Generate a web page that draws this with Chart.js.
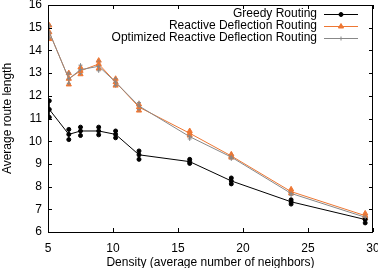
<!DOCTYPE html>
<html><head><meta charset="utf-8">
<script src="https://cdn.jsdelivr.net/npm/chart.js@4.4.1/dist/chart.umd.min.js"></script>
<style>html,body{margin:0;padding:0;background:#fff;}#wrap{width:378px;height:268px;}</style>
</head><body><div id="wrap"><canvas id="c" width="378" height="268"></canvas></div>
<script>
const density = [5.1, 6.6, 7.5, 8.9, 10.2, 12.0, 15.9, 19.1, 23.7, 29.4];
const seriesNames = ["Greedy Routing", "Reactive Deflection Routing", "Optimized Reactive Deflection Routing"];
const greedyMean = [11.4, 10.3, 10.45, 10.45, 10.3, 9.4, 9.1, 8.25, 7.33, 6.55];
const greedyLo   = [11.05, 10.07, 10.25, 10.28, 10.15, 9.2, 9.02, 8.12, 7.23, 6.4];
const greedyHi   = [11.78, 10.52, 10.62, 10.62, 10.45, 9.57, 9.2, 8.38, 7.42, 6.66];
const reactMean  = [14.8, 12.75, 13.1, 13.4, 12.6, 11.5, 10.35, 9.35, 7.78, 6.72];
const reactLo    = [14.5, 12.5, 12.95, 13.2, 12.45, 11.35, 10.25, 9.28, 7.7, 6.62];
const reactHi    = [15.1, 13.0, 13.25, 13.55, 12.75, 11.62, 10.45, 9.42, 7.88, 6.82];
const optMean    = [14.8, 12.75, 13.15, 13.3, 12.6, 11.55, 10.2, 9.3, 7.7, 6.65];
const optLo      = [14.55, 12.55, 13.0, 13.1, 12.45, 11.4, 10.1, 9.22, 7.62, 6.58];
const optHi      = [15.1, 13.0, 13.35, 13.5, 12.75, 11.7, 10.3, 9.4, 7.8, 6.75];
const xTicks = [5, 10, 15, 20, 25, 30];
const yTicks = [6, 7, 8, 9, 10, 11, 12, 13, 14, 15, 16];

const FONT = "'Liberation Sans', Arial, sans-serif";
const colors = ["#000000", "#ee7733", "#888888"];
const styles = [
  {pointStyle: 'circle', radius: 2},
  {pointStyle: 'triangle', radius: 3},
  {pointStyle: 'cross', radius: 2}
];

function pts(ys){ return density.map((x,i)=>({x, y: ys[i]})); }
function errPts(lo, hi){
  const out=[];
  density.forEach((x,i)=>{ out.push({x, y: lo[i]}, {x, y: hi[i]}, {x, y: null}); });
  return out;
}
const means=[greedyMean, reactMean, optMean], los=[greedyLo, reactLo, optLo], his=[greedyHi, reactHi, optHi];
const datasets=[];
[2,1,0].forEach(k=>{
  datasets.push({label: seriesNames[k]+' err', data: errPts(los[k], his[k]), borderColor: colors[k], backgroundColor: colors[k],
    borderWidth: 1, pointStyle: styles[k].pointStyle, pointRadius: styles[k].radius, pointBorderWidth: 1, spanGaps: false, order: 10-k});
  datasets.push({label: seriesNames[k], data: pts(means[k]), borderColor: colors[k], backgroundColor: colors[k],
    borderWidth: 1, pointStyle: styles[k].pointStyle, pointRadius: styles[k].radius, pointBorderWidth: 1, order: 5-k});
});

const framePlugin = {
  id: 'frame',
  afterDraw(chart){
    const {ctx, chartArea: a, scales} = chart;
    ctx.save();
    ctx.strokeStyle = '#000'; ctx.lineWidth = 1;
    ctx.strokeRect(Math.round(a.left)+0.5, Math.round(a.top)+0.5, Math.round(a.right-a.left)-1, Math.round(a.bottom-a.top));
    ctx.beginPath();
    xTicks.forEach(v=>{ const px = Math.round(scales.x.getPixelForValue(v))+0.5;
      ctx.moveTo(px, a.bottom); ctx.lineTo(px, a.bottom-4); ctx.moveTo(px, a.top); ctx.lineTo(px, a.top+4); });
    yTicks.forEach(v=>{ const py = Math.round(scales.y.getPixelForValue(v))+0.5;
      ctx.moveTo(a.left, py); ctx.lineTo(a.left+4, py); ctx.moveTo(a.right, py); ctx.lineTo(a.right-4, py); });
    ctx.stroke();
    // legend
    ctx.font = '12px ' + FONT;
    ctx.textAlign = 'right'; ctx.textBaseline = 'middle';
    const rows=[14, 26, 37.5];
    seriesNames.forEach((n,k)=>{
      const y = rows[k];
      ctx.fillStyle = '#000';
      ctx.fillText(n, 317, y);
      ctx.strokeStyle = colors[k]; ctx.lineWidth = 1;
      ctx.beginPath(); ctx.moveTo(324, Math.round(y)+0.5); ctx.lineTo(358, Math.round(y)+0.5); ctx.stroke();
      ctx.fillStyle = colors[k];
      Chart.helpers.drawPoint(ctx, {pointStyle: styles[k].pointStyle, radius: styles[k].radius, rotation: 0, borderWidth: 1}, 341, Math.round(y)+0.5);
    });
    ctx.restore();
  }
};

new Chart(document.getElementById('c'), {
  type: 'line',
  data: {datasets},
  options: {
    responsive: false, animation: false, devicePixelRatio: 1,
    layout: {padding: {top: 4, right: 4, left: 0, bottom: 0}},
    plugins: {legend: {display: false}, tooltip: {enabled: false}},
    scales: {
      x: {type: 'linear', min: 5, max: 30,
        afterBuildTicks: s => { s.ticks = xTicks.map(v=>({value: v})); },
        afterFit: s => { s.height = 36; s.paddingLeft = 0; s.paddingRight = 0; },
        grid: {display: false, drawTicks: false}, border: {display: false},
        ticks: {color: '#000', font: {family: FONT, size: 12}, padding: 9, maxRotation: 0},
        title: {display: true, text: 'Density (average number of neighbors)', color: '#000', font: {family: FONT, size: 12}, padding: {top: 1, bottom: -2}}
      },
      y: {type: 'linear', min: 6, max: 16,
        afterBuildTicks: s => { s.ticks = yTicks.map(v=>({value: v})); },
        afterFit: s => { s.width = 48; s.paddingTop = 0; s.paddingBottom = 0; },
        grid: {display: false, drawTicks: false}, border: {display: false},
        ticks: {color: '#000', font: {family: FONT, size: 12}, padding: 6},
        title: {display: true, text: 'Average route length', color: '#000', font: {family: FONT, size: 12}, padding: {top: 0, bottom: 4}}
      }
    }
  },
  plugins: [framePlugin]
});
</script></body></html>
